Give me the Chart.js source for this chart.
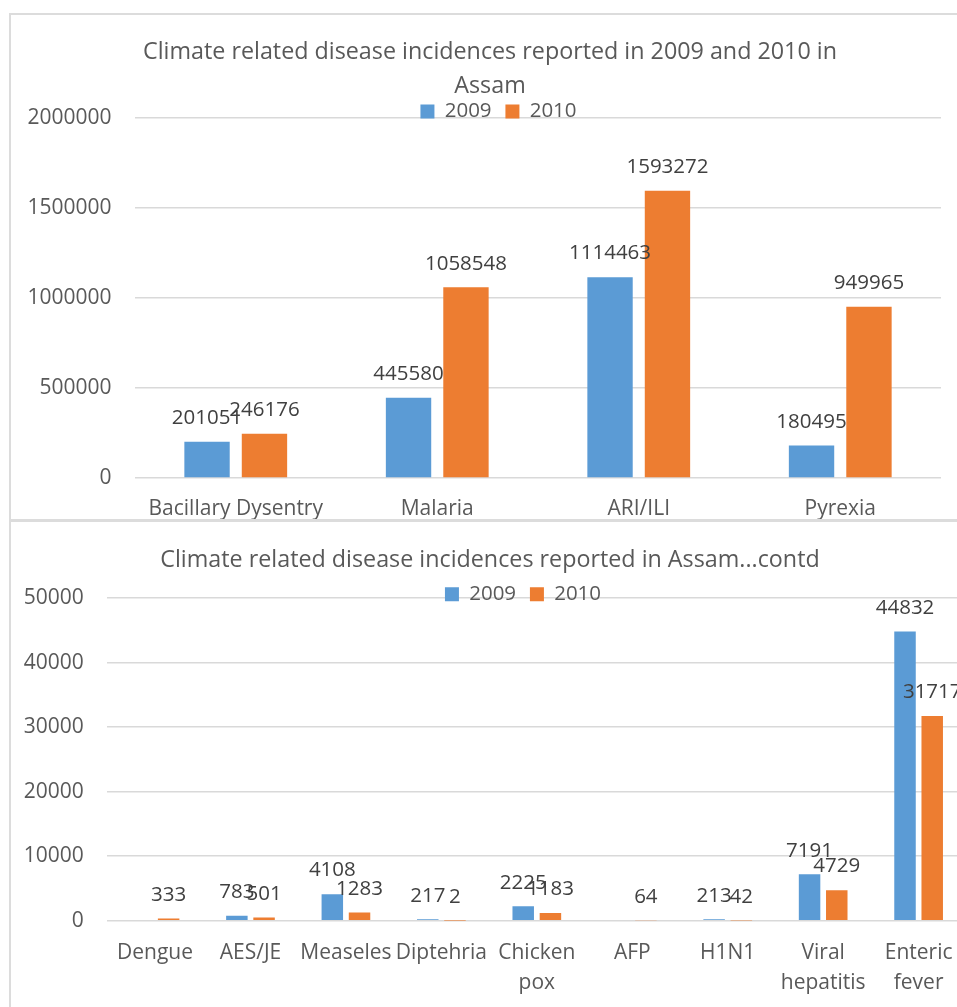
<!DOCTYPE html>
<html>
<head>
<meta charset="utf-8">
<script src="https://cdn.jsdelivr.net/npm/chart.js@4/dist/chart.umd.min.js"></script>
<style>
  html, body { margin: 0; padding: 0; background: #ffffff; width: 957px; height: 1007px; overflow: hidden; }
  .frame { position: absolute; box-sizing: border-box; border: 2px solid #DCDCDC; }
  canvas { position: absolute; }
</style>
</head>
<body>
<div class="frame" style="left:9px; top:13px; width:990px; height:508px;"></div>
<div class="frame" style="left:9px; top:520px; width:990px; height:600px;"></div>
<canvas id="chartMain" width="960" height="506" style="left:10px; top:13px;"></canvas>
<canvas id="chartContd" width="960" height="487" style="left:10px; top:521px;"></canvas>

<script>
// Series names (legend)
const seriesNames = ['2009', '2010'];

// Major diseases
const mainTitle = ['Climate related disease incidences reported in 2009 and 2010 in', 'Assam'];
const mainCategories = ['Bacillary Dysentry', 'Malaria', 'ARI/ILI', 'Pyrexia'];
const main2009 = [201051, 445580, 1114463, 180495];
const main2010 = [246176, 1058548, 1593272, 949965];
const mainTicks = [0, 500000, 1000000, 1500000, 2000000];

// Other diseases (continued)
const contdTitle = 'Climate related disease incidences reported in Assam...contd';
const contdCategories = ['Dengue', 'AES/JE', 'Measeles', 'Diptehria', ['Chicken', 'pox'], 'AFP', 'H1N1', ['Viral', 'hepatitis'], ['Enteric', 'fever']];
const contd2009 = [null, 783, 4108, 217, 2225, null, 213, 7191, 44832];
const contd2010 = [333, 501, 1283, 2, 1183, 64, 42, 4729, 31717];
const contdTicks = [0, 10000, 20000, 30000, 40000, 50000];

const BLUE = '#5B9BD5';
const ORANGE = '#ED7D31';
const TEXT = '#595959';
const GRID = '#D9D9D9';

Chart.defaults.font.family = "'Open Sans', sans-serif";
Chart.defaults.color = TEXT;

// Writes each bar's value just above its top
const valueLabels = {
  id: 'valueLabels',
  afterDatasetsDraw(chart, args, opts) {
    const ctx = chart.ctx;
    ctx.save();
    ctx.font = opts.size + "px 'Open Sans', sans-serif";
    ctx.fillStyle = opts.color;
    ctx.textAlign = 'center';
    ctx.textBaseline = 'alphabetic';
    chart.data.datasets.forEach((ds, i) => {
      chart.getDatasetMeta(i).data.forEach((bar, j) => {
        const v = ds.data[j];
        if (v === null || v === undefined) return;
        ctx.fillText(String(v), bar.x, bar.y - opts.offset);
      });
    });
    ctx.restore();
  }
};

// Moves the legend sideways and lets it spill a little over the plot top
const legendShift = {
  id: 'legendShift',
  afterLayout(chart, args, opts) {
    const lg = chart.legend;
    if (!lg) return;
    lg.left += opts.dx;
    lg.right += opts.dx;
    lg.bottom += opts.extend;
    lg.height += opts.extend;
  }
};

function buildChart(id, cfg) {
  const scales = {
    x: {
      grid: { display: false, drawTicks: false },
      border: { display: false },
      ticks: { color: TEXT, font: { size: 21, lineHeight: 1.43 }, padding: cfg.xPad, maxRotation: 0, minRotation: 0, autoSkip: false },
      afterFit: s => { s.height = cfg.xHeight; }
    },
    y: {
      position: 'left',
      min: cfg.ticks[0],
      max: cfg.ticks[cfg.ticks.length - 1],
      afterBuildTicks: s => { s.ticks = cfg.ticks.map(v => ({ value: v })); },
      grid: { color: GRID, lineWidth: 1.5, drawTicks: false },
      border: { display: false },
      ticks: { color: TEXT, font: { size: 21 }, padding: 23.5, callback: v => String(v) },
      afterFit: s => { s.width = cfg.yWidth; }
    }
  };
  if (cfg.rightGap > 0) {
    // empty right-hand axis that only keeps a margin beside the plot
    scales.gap = {
      type: 'linear',
      position: 'right',
      grid: { display: false, drawTicks: false },
      border: { display: false },
      ticks: { display: false },
      afterFit: s => { s.width = cfg.rightGap; }
    };
  }
  return new Chart(document.getElementById(id), {
    type: 'bar',
    data: {
      labels: cfg.categories,
      datasets: [
        { label: seriesNames[0], data: cfg.s2009, backgroundColor: BLUE, borderWidth: 0,
          categoryPercentage: 0.57, barPercentage: 0.79, yAxisID: 'y' },
        { label: seriesNames[1], data: cfg.s2010, backgroundColor: ORANGE, borderWidth: 0,
          categoryPercentage: 0.57, barPercentage: 0.79, yAxisID: 'y' }
      ]
    },
    options: {
      responsive: false,
      devicePixelRatio: 1,
      animation: false,
      events: [],
      layout: { padding: 0 },
      plugins: {
        title: {
          display: true,
          text: cfg.title,
          color: TEXT,
          font: { size: 23.3, weight: 'normal', lineHeight: 1.443 },
          padding: { top: cfg.titleTop, bottom: cfg.titleBottom }
        },
        legend: {
          position: 'top',
          maxHeight: cfg.legendHeight,
          labels: { boxWidth: 14, boxHeight: 14, padding: 13.85, color: TEXT, font: { size: 20.5 } }
        },
        tooltip: { enabled: false },
        valueLabels: { size: 20.5, color: '#404040', offset: 17.7 },
        legendShift: { dx: cfg.legendDx, extend: 14 }
      },
      scales: scales
    },
    plugins: [valueLabels, legendShift]
  });
}

buildChart('chartMain', {
  categories: mainCategories, s2009: main2009, s2010: main2010, ticks: mainTicks,
  title: mainTitle, titleTop: 22.6, titleBottom: -15.55, legendHeight: 30.25, legendDx: 8.5,
  yWidth: 125, rightGap: 29, xHeight: 41, xPad: 16.5
});

buildChart('chartContd', {
  categories: contdCategories, s2009: contd2009, s2010: contd2010, ticks: contdTicks,
  title: contdTitle, titleTop: 22.9, titleBottom: -7.35, legendHeight: 27.95, legendDx: 33,
  yWidth: 97.3, rightGap: 0, xHeight: 87.3, xPad: 17.5
});
</script>
</body>
</html>
